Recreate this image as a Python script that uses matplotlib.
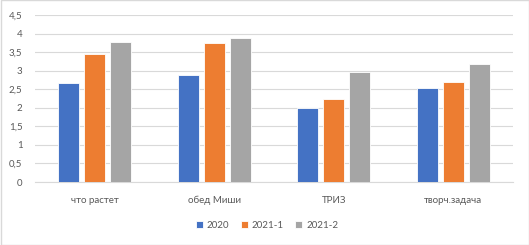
import matplotlib
matplotlib.use("Agg")
import matplotlib.pyplot as plt
import numpy as np
from matplotlib.patches import Rectangle

categories = ["что растет", "обед Миши", "ТРИЗ", "творч.задача"]
series_names = ["2020", "2021-1", "2021-2"]
v2020 = [2.66, 2.88, 2.00, 2.54]
v2021_1 = [3.44, 3.74, 2.24, 2.69]
v2021_2 = [3.77, 3.87, 2.96, 3.17]
yticks = [0, 0.5, 1, 1.5, 2, 2.5, 3, 3.5, 4, 4.5]
ytick_labels = ["0", "0,5", "1", "1,5", "2", "2,5", "3", "3,5", "4", "4,5"]

colors = ["#4472C4", "#ED7D31", "#A5A5A5"]
txt = "#595959"
plt.rcParams['font.family'] = ['Lato', 'DejaVu Sans']

fig = plt.figure(figsize=(5.29, 2.45), dpi=100)
ax = fig.add_axes([35/529, 1-182/245, (513-35)/529, (182-15)/245])

x = np.arange(len(categories))
step = 0.218
width = 0.176
for i, (vals, name) in enumerate(zip([v2020, v2021_1, v2021_2], series_names)):
    ax.bar(x + (i-1)*step, vals, width=width, color=colors[i], label=name,
           edgecolor="white", linewidth=0.6, zorder=3)

ax.set_xlim(-0.5, len(categories)-0.5)
ax.set_ylim(0, 4.5)
ax.set_yticks(yticks)
ax.set_yticklabels(ytick_labels)
ax.set_xticks(x)
ax.set_xticklabels(categories)
ax.tick_params(axis='both', length=0, labelsize=7, colors=txt)
ax.tick_params(axis='x', pad=10)
ax.tick_params(axis='y', pad=9)
ax.grid(axis='y', color="#D9D9D9", linewidth=0.8, zorder=0)
for s in ["top", "right", "left"]:
    ax.spines[s].set_visible(False)
ax.spines["bottom"].set_color("#D9D9D9")
ax.spines["bottom"].set_linewidth(0.8)

leg = fig.legend(loc="center", bbox_to_anchor=(0.505, 1-225/245), ncol=3,
                 frameon=False, fontsize=7, handlelength=0.7, handleheight=0.7,
                 handletextpad=0.4, columnspacing=1.2, labelcolor=txt)

fig.patches.append(Rectangle((0.5/529, 0.5/245), 1-1/529, 1-1/245, transform=fig.transFigure,
                             fill=False, edgecolor="#D9D9D9", linewidth=1))
fig.savefig("out.png", dpi=100)
